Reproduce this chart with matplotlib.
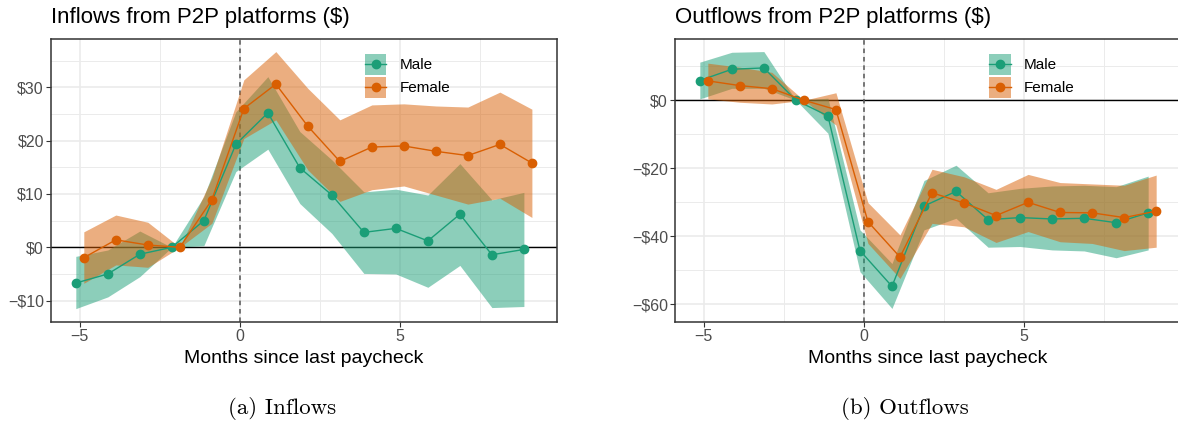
import matplotlib
matplotlib.use("Agg")
import matplotlib.pyplot as plt
from matplotlib.patches import Rectangle
from matplotlib.lines import Line2D
from matplotlib.legend_handler import HandlerBase
from matplotlib.ticker import FuncFormatter, MultipleLocator
import numpy as np

plt.rcParams['font.family'] = ['Liberation Sans', 'DejaVu Sans']

months = [-5, -4, -3, -2, -1, 0, 1, 2, 3, 4, 5, 6, 7, 8, 9]

in_male = [-6.7, -5.0, -1.3, 0, 5.0, 19.3, 25.2, 14.9, 9.8, 2.8, 3.55, 1.2, 6.2, -1.4, -0.4]
in_male_lo = [-11.5, -9.3, -5.5, 0, 0.3, 14.2, 18.4, 8.2, 2.6, -4.9, -5.0, -7.5, -3.4, -11.3, -11.1]
in_male_hi = [-1.7, -0.5, 3.05, 0, 9.5, 25.4, 32.0, 21.7, 16.4, 10.4, 10.9, 9.8, 15.7, 8.9, 10.3]
in_female = [-1.95, 1.4, 0.43, 0, 8.9, 26.0, 30.6, 22.7, 16.1, 18.8, 19.0, 18.0, 17.2, 19.3, 15.8]
in_female_lo = [-6.75, -3.3, -3.75, 0, 4.5, 20.4, 23.9, 14.5, 8.6, 10.8, 11.5, 9.8, 8.1, 9.2, 5.6]
in_female_hi = [2.9, 6.05, 4.7, 0, 13.0, 31.4, 36.7, 29.8, 23.9, 26.7, 26.9, 26.5, 26.3, 29.1, 25.9]

out_male = [5.8, 9.1, 9.5, 0, -4.6, -44.2, -54.7, -31.1, -26.8, -35.1, -34.5, -34.9, -34.7, -36.0, -33.1]
out_male_lo = [0.4, 3.5, 3.5, 0, -9.7, -50.4, -61.2, -38.1, -34.7, -43.2, -43.0, -44.0, -44.3, -46.3, -44.0]
out_male_hi = [11.2, 14.1, 14.3, 0, 0.6, -38.1, -48.0, -23.6, -19.1, -27.2, -25.9, -25.2, -25.0, -25.4, -22.3]
out_female = [5.7, 4.3, 3.4, 0, -2.75, -35.7, -46.1, -27.2, -30.2, -33.9, -30.0, -33.0, -33.1, -34.5, -32.6]
out_female_lo = [0.4, -0.6, -1.1, 0, -7.3, -42.1, -52.4, -36.2, -37.2, -41.8, -38.6, -41.6, -42.1, -44.2, -43.2]
out_female_hi = [10.9, 9.7, 8.2, 0, 2.2, -30.1, -39.6, -20.3, -22.5, -26.2, -21.8, -24.2, -24.6, -25.0, -22.0]

titles = ["Inflows from P2P platforms ($)", "Outflows from P2P platforms ($)"]
captions = ["(a) Inflows", "(b) Outflows"]
groups = ["Male", "Female"]
xlabel = "Months since last paycheck"

MALE = "#1B9E77"
FEMALE = "#D95F02"
DODGE = 0.125

W, H = 1178, 425
fig = plt.figure(figsize=(W / 100, H / 100), dpi=100)

def px_axes(x0, x1, y0, y1):
    return fig.add_axes([x0 / W, 1 - y1 / H, (x1 - x0) / W, (y1 - y0) / H])

ax1 = px_axes(51, 556.7, 39, 321.7)
ax2 = px_axes(675, 1181, 39, 321.7)


class KeyHandler(HandlerBase):
    """Legend key: translucent band square with a line and centred point."""
    def create_artists(self, legend, orig_handle, xdescent, ydescent,
                       width, height, fontsize, trans):
        c = orig_handle.get_color()
        rect = Rectangle((-xdescent, -ydescent), width, height, facecolor=c,
                         alpha=0.5, edgecolor="none", transform=trans)
        cy = -ydescent + height / 2.0
        line = Line2D([-xdescent, -xdescent + width], [cy, cy], color=c, lw=1.0,
                      transform=trans)
        dot = Line2D([-xdescent + width / 2.0], [cy], color=c, marker="o", ms=6,
                     linestyle="none", transform=trans)
        return [rect, line, dot]


def money(v, pos):
    iv = int(round(v))
    if iv < 0:
        return "\u2212$" + str(-iv)
    return "$" + str(iv)

def intfmt(v, pos):
    iv = int(round(v))
    if iv < 0:
        return "\u2212" + str(-iv)
    return str(iv)

def draw(ax, m, mlo, mhi, f, flo, fhi, ylim, ymaj, title, caption, cap_x):
    x = np.array(months, dtype=float)
    xm = x - DODGE
    xf = x + DODGE
    ax.fill_between(xm, mlo, mhi, color=MALE, alpha=0.5, lw=0, zorder=2)
    ax.fill_between(xf, flo, fhi, color=FEMALE, alpha=0.5, lw=0, zorder=2.1)
    ax.axhline(0, color="black", lw=1.0, zorder=1.5)
    ax.axvline(0, color="#555555", lw=1.1, ls=(0, (3, 2.5)), zorder=1.6)
    lm, = ax.plot(xm, m, color=MALE, lw=1.0, marker="o", ms=6, zorder=3)
    lf, = ax.plot(xf, f, color=FEMALE, lw=1.0, marker="o", ms=6, zorder=3.1)
    ax.set_xlim(-5.9, 9.9)
    ax.set_ylim(*ylim)
    ax.xaxis.set_major_locator(MultipleLocator(5))
    ax.xaxis.set_minor_locator(MultipleLocator(2.5))
    ax.yaxis.set_major_locator(MultipleLocator(ymaj))
    ax.yaxis.set_minor_locator(MultipleLocator(ymaj / 2))
    ax.yaxis.set_major_formatter(FuncFormatter(money))
    ax.xaxis.set_major_formatter(FuncFormatter(intfmt))
    ax.grid(which="major", color="#EBEBEB", lw=1.2, zorder=0)
    ax.grid(which="minor", color="#EBEBEB", lw=0.7, zorder=0)
    ax.set_axisbelow(True)
    ax.tick_params(which="major", length=3.6, width=0.8, color="#333333",
                   labelsize=11.5, labelcolor="#4D4D4D", pad=1.5)
    ax.tick_params(which="minor", length=0)
    for s in ax.spines.values():
        s.set_color("#333333")
        s.set_linewidth(1.1)
        s.set_zorder(5)
    ax.set_xlabel(xlabel, fontsize=14, color="black", labelpad=4.5)
    ax.set_title(title, loc="left", fontsize=16, pad=11.5)
    handler = KeyHandler()
    ax.legend([lm, lf], groups, handler_map={lm: handler, lf: handler},
              loc="upper left", bbox_to_anchor=(0.621, 0.948),
              frameon=False, fontsize=11, handlelength=1.4, handleheight=1.737,
              handletextpad=0.85, labelspacing=0.13, borderpad=0, borderaxespad=0)
    fig.text(cap_x / W, 1 - 409 / H, caption, ha="center", va="center",
             fontsize=16.5, family="cmr10")

draw(ax1, in_male, in_male_lo, in_male_hi, in_female, in_female_lo, in_female_hi,
     (-13.95, 39.06), 10, titles[0], captions[0], 282)
draw(ax2, out_male, out_male_lo, out_male_hi, out_female, out_female_lo, out_female_hi,
     (-65.1, 18.0), 20, titles[1], captions[1], 905)

fig.savefig("out.png", dpi=100)
